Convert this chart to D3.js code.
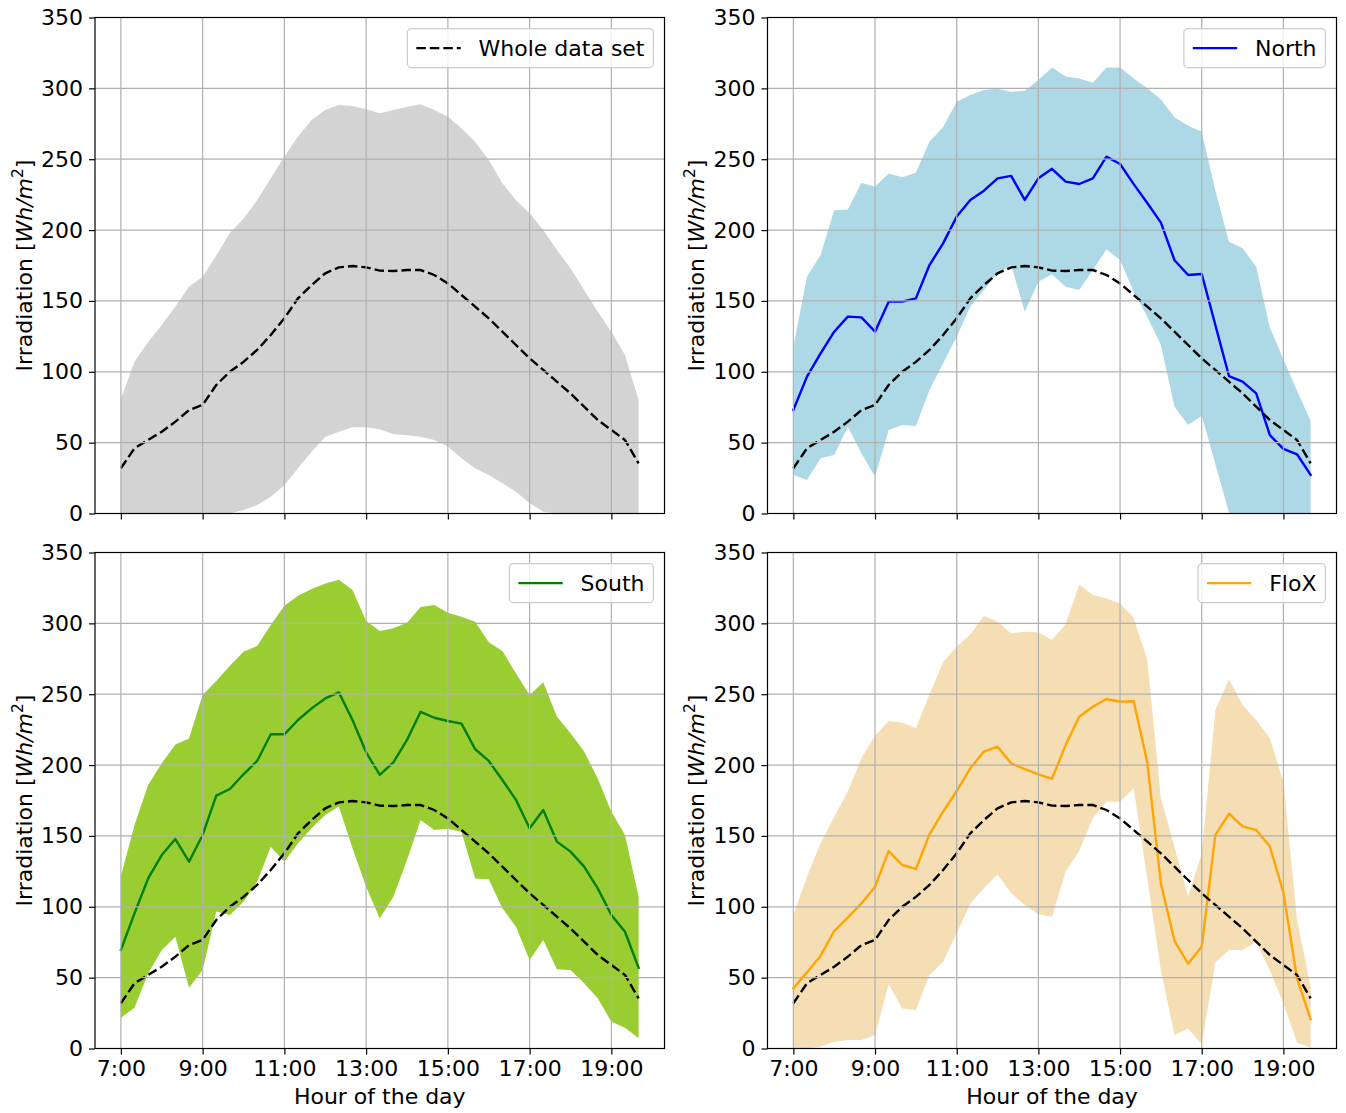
<!DOCTYPE html>
<html>
<head>
<meta charset="utf-8">
<script src="https://cdn.jsdelivr.net/npm/d3@7"></script>
<style>
  body { margin: 0; background: #ffffff; }
  svg { display: block; }
  text { font-family: "DejaVu Sans", sans-serif; fill: #000; }
</style>
</head>
<body>
<svg id="chart" width="1346" height="1113"></svg>
<script>
// Sampling times (20-minute steps)
const timeLabels = ["7:00","7:20","7:40","8:00","8:20","8:40","9:00","9:20","9:40","10:00",
  "10:20","10:40","11:00","11:20","11:40","12:00","12:20","12:40","13:00","13:20",
  "13:40","14:00","14:20","14:40","15:00","15:20","15:40","16:00","16:20","16:40",
  "17:00","17:20","17:40","18:00","18:20","18:40","19:00","19:20","19:40"];

const xTickLabels = ["7:00","9:00","11:00","13:00","15:00","17:00","19:00"];
const yTicks = [0, 50, 100, 150, 200, 250, 300, 350];

// Whole data set: mean and band
const wholeMean = [31.9,46,51.9,57.7,64.8,73,76.6,90.7,100,107,115.4,126,137.7,151.8,161.2,169.5,173.7,174.6,173.7,171.4,
  171.1,171.8,171.8,168.3,162.4,154.2,146,137.7,128.3,118.9,109.5,101.3,93,84.8,75.4,66,58.9,51.9,35.4];
const wholeUpper = [81,107,121,133,146,160,167,182,198,208,221,236.5,252,266,277.7,284.8,288.3,287.6,285.2,282.4,
  284.8,287,288.7,284.8,280,271.8,262.4,249.4,233,221,211.8,200,186,173,157.7,142.4,128.3,111.8,80];
const wholeLower = [0,0,0,0,0,0,0,0,0,2.5,6,11.9,20,31.9,43.6,54.2,57.7,60.8,60.8,59.4,
  56,55.3,54.2,51.9,47.2,38.9,31.9,27.2,21.3,15.4,7.2,1.3,0,0,0,0,0,0,0];

// North
const northMean = [73,96.6,113,128.3,138.9,138.4,128.3,149.5,149.5,151.8,175.3,190.6,209.5,221.3,227.8,236.5,238.2,221.3,236.5,243.2,
  234.2,232.5,236.5,251.8,246.6,232.4,219.1,205.3,178.7,168.3,169,133,97,93,84.8,55.4,45.6,41.8,27.2];
const northUpper = [117.7,167,182.4,214,214.6,233.4,230.6,240,237.2,240.5,262.4,272.5,290.6,295.3,298.8,299.8,297.6,298.4,305.9,314.7,
  308.3,307,304,314.8,314.8,307,300,292.2,279.7,273.7,269.4,228,191.8,187.1,174.2,131.2,108.9,86.6,65.4];
const northLower = [27.1,23.6,38.9,41.3,61.3,42.5,26,58.9,62.4,61.7,87.1,106,124.8,146,157.7,169.5,175.4,142.4,163.6,168.8,
  160,157.7,171.8,186.4,178.9,156.5,138.9,118.9,75.4,62.4,68.9,35,0.5,0,0,0,0,0,0];

// South
const southMean = [69.5,95.4,120,136.5,147.8,131.8,150.7,178.4,183.1,193.5,202.9,221.7,221.7,231.8,240,247,251.3,231.8,209,193,
  201.9,217.7,237.6,233.4,231.1,229.2,211.3,202.9,189.5,175.4,155.4,168.3,146,138.9,128.3,113,94.2,82.4,57];
const southUpper = [121.3,157.7,185.9,201.2,214.6,218.8,249.4,259.3,270.1,280,284,298.8,312.5,319.5,324.2,328.2,330.8,323.5,301.7,294.6,
  296.5,300.5,311.5,313,307.5,304.7,301.2,286.6,280.5,264.7,249.4,258.4,234.2,222.4,209.5,190.6,167,150.6,107.1];
const southLower = [21.7,28.8,53,69.5,78.9,42.9,55.4,96.6,94.2,103.6,117.7,142.4,131.8,144.8,155.4,164.8,170.7,141.3,114.2,91.8,
  107.1,133,161.2,154.2,155,153,120,119.4,98.9,86,62.4,76.6,55.9,55.4,46,35.4,18.9,14.7,7.2];

// FloX
const floxMean = [42.5,53.7,65.5,82.9,92.3,102.4,114.2,139.3,129.5,126.7,151.1,167.1,181.7,197.7,209.5,213,201.2,197.2,193.5,190.3,
  214.1,234.1,241.2,246.6,244.7,245,201.8,116.5,76,59.8,72,150.6,165.7,156.8,154.2,142.7,110.1,49.5,20.7];
const floxUpper = [94.2,121.3,144.8,163.6,181.3,204.8,220.7,231.1,229.9,225.9,249.9,272.5,283.6,292.2,305.4,301.2,292.9,294.1,293.7,288.3,
  299.3,327.5,320,317.6,314.1,304,274.1,176.5,142,107.1,137.7,238.8,260.5,242.4,231.8,218.9,188.3,90.7,43.6];
const floxLower = [0,0,1.3,4.8,6,6,9.5,45.3,28.3,27.2,51.9,61.3,81.3,102.4,113,122.9,109.5,101.3,94.7,93,
  124.8,139.3,162.4,174.2,174.2,183.6,120,55,9.6,14.2,3,60.7,69.5,69.3,75.4,55,32,4,0.6];

const hours = timeLabels.map(s => { const [h, m] = s.split(":"); return +h + (+m) / 60; });
const toHour = s => { const [h, m] = s.split(":"); return +h + (+m) / 60; };

const panels = [
  { label: "Whole data set", line: null, fill: "#d3d3d3", mean: null, upper: wholeUpper, lower: wholeLower,
    box: { x0: 95, x1: 664.5, y0: 17.5, y1: 513.5 }, xLabels: false },
  { label: "North", line: "#0000ff", fill: "#add8e6", mean: northMean, upper: northUpper, lower: northLower,
    box: { x0: 767.5, x1: 1336.5, y0: 17.5, y1: 513.5 }, xLabels: false },
  { label: "South", line: "#008000", fill: "#9acd32", mean: southMean, upper: southUpper, lower: southLower,
    box: { x0: 95, x1: 664.5, y0: 552.5, y1: 1048.5 }, xLabels: true },
  { label: "FloX", line: "#ffa500", fill: "#f5deb3", mean: floxMean, upper: floxUpper, lower: floxLower,
    box: { x0: 767.5, x1: 1336.5, y0: 552.5, y1: 1048.5 }, xLabels: true }
];

const svg = d3.select("#chart");
const FS = 22;
const LW = 2.4;
const GRID_W = 1.2;
const pad = (hours[hours.length - 1] - hours[0]) * 0.05;

panels.forEach((p, k) => {
  const b = p.box;
  const x = d3.scaleLinear().domain([hours[0] - pad, hours[hours.length - 1] + pad]).range([b.x0, b.x1]);
  const y = d3.scaleLinear().domain([0, 350]).range([b.y1, b.y0]);
  const g = svg.append("g");

  const clipId = "clip" + k;
  g.append("clipPath").attr("id", clipId)
    .append("rect").attr("x", b.x0).attr("y", b.y0).attr("width", b.x1 - b.x0).attr("height", b.y1 - b.y0);

  const plot = g.append("g").attr("clip-path", `url(#${clipId})`);

  // spread band
  const area = d3.area()
    .x((d, i) => x(hours[i]))
    .y0((d, i) => y(p.lower[i]))
    .y1((d, i) => y(p.upper[i]));
  plot.append("path").datum(p.upper).attr("d", area).attr("fill", p.fill).attr("stroke", "none");

  // grid
  const grid = g.append("g");
  xTickLabels.forEach(t => {
    grid.append("line").attr("x1", x(toHour(t))).attr("x2", x(toHour(t)))
      .attr("y1", b.y0).attr("y2", b.y1).attr("stroke", "#b0b0b0").attr("stroke-width", GRID_W);
  });
  yTicks.forEach(t => {
    grid.append("line").attr("x1", b.x0).attr("x2", b.x1)
      .attr("y1", y(t)).attr("y2", y(t)).attr("stroke", "#b0b0b0").attr("stroke-width", GRID_W);
  });

  const line = d3.line().x((d, i) => x(hours[i])).y(d => y(d));

  if (p.mean) {
    plot.append("path").datum(p.mean).attr("d", line)
      .attr("fill", "none").attr("stroke", p.line).attr("stroke-width", LW)
      .attr("stroke-linejoin", "round").attr("stroke-linecap", "square");
  }
  plot.append("path").datum(wholeMean).attr("d", line)
    .attr("fill", "none").attr("stroke", "#000").attr("stroke-width", LW)
    .attr("stroke-dasharray", "9.5,4");

  // axes
  const yAxis = d3.axisLeft(y).tickValues(yTicks).tickSize(6).tickPadding(6).tickFormat(d3.format("d"));
  const ya = g.append("g").attr("transform", `translate(${b.x0},0)`).call(yAxis);
  const xAxis = d3.axisBottom(x).tickValues(xTickLabels.map(toHour)).tickSize(6).tickPadding(6)
    .tickFormat((d, i) => p.xLabels ? xTickLabels[i] : "");
  const xa = g.append("g").attr("transform", `translate(0,${b.y1})`).call(xAxis);
  [ya, xa].forEach(a => {
    a.select(".domain").remove();
    a.selectAll(".tick line").attr("stroke", "#000").attr("stroke-width", GRID_W);
    a.selectAll(".tick text").attr("font-size", FS).attr("font-family", "DejaVu Sans").attr("fill", "#000");
  });

  // frame
  g.append("rect").attr("x", b.x0).attr("y", b.y0).attr("width", b.x1 - b.x0).attr("height", b.y1 - b.y0)
    .attr("fill", "none").attr("stroke", "#000").attr("stroke-width", GRID_W);

  // y label
  const ylx = b.x0 - 63.5;
  const ylt = g.append("text")
    .attr("transform", `translate(${ylx},${(b.y0 + b.y1) / 2}) rotate(-90)`)
    .attr("text-anchor", "middle").attr("font-size", FS);
  ylt.append("tspan").text("Irradiation [");
  ylt.append("tspan").attr("font-style", "italic").text("Wh/m");
  ylt.append("tspan").attr("font-size", FS * 0.7).attr("dy", -9).text("2");
  ylt.append("tspan").attr("dy", 9).text("]");

  // x label
  if (p.xLabels) {
    g.append("text").attr("x", (b.x0 + b.x1) / 2).attr("y", 1104)
      .attr("text-anchor", "middle").attr("font-size", FS).text("Hour of the day");
  }

  // legend
  const lg = g.append("g");
  const txt = lg.append("text").attr("font-size", FS).text(p.label);
  const tw = txt.node().getComputedTextLength();
  const bp = 8.9, hl = 44.4, htp = 17.8, bap = 11.1, lh = 39;
  const lw = bp + hl + htp + tw + bp;
  const lx = b.x1 - bap - lw, ly = b.y0 + bap;
  lg.insert("rect", "text").attr("x", lx).attr("y", ly).attr("width", lw).attr("height", lh)
    .attr("rx", 4).attr("fill", "#fff").attr("fill-opacity", 0.8).attr("stroke", "#cccccc").attr("stroke-width", 1.2);
  lg.insert("line", "text").attr("x1", lx + bp).attr("x2", lx + bp + hl)
    .attr("y1", ly + lh / 2).attr("y2", ly + lh / 2)
    .attr("stroke", p.line || "#000").attr("stroke-width", LW)
    .attr("stroke-dasharray", p.line ? null : "9.5,4");
  txt.attr("x", lx + bp + hl + htp).attr("y", ly + lh / 2).attr("dy", "0.35em");
});
</script>
</body>
</html>
